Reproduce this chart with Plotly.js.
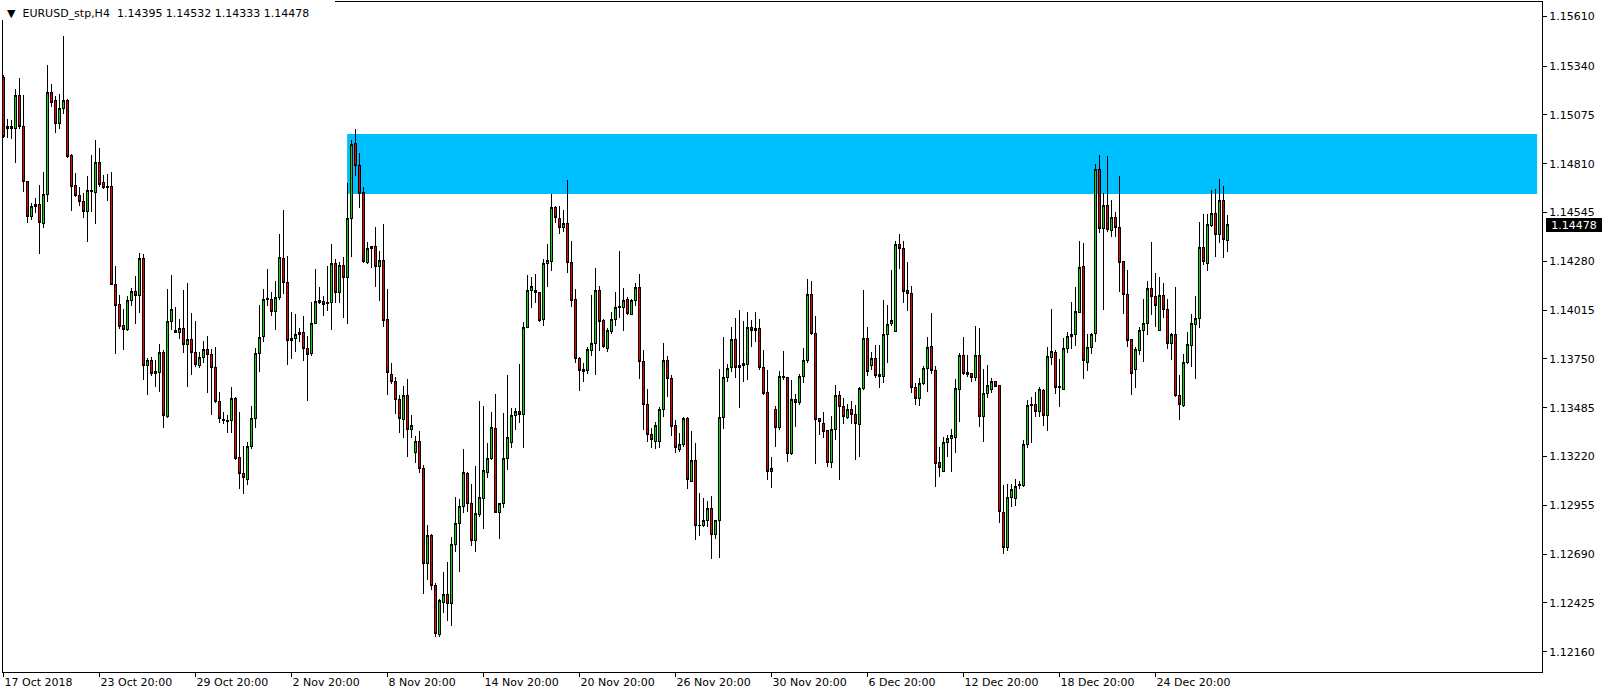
<!DOCTYPE html>
<html><head><meta charset="utf-8">
<script src="https://cdn.plot.ly/plotly-3.0.1.min.js"></script>
<style>html,body{margin:0;padding:0;background:#fff;overflow:hidden;} #chart{width:1604px;height:695px;}
#chart path.box{shape-rendering:crispEdges;}</style>
</head><body><div id="chart"></div>
<script>
const symbol = "EURUSD_stp";
const timeframe = "H4";

const open = [
1.15279,1.15000,1.15013,1.15002,1.15178,1.15011,1.14712,1.14522,1.14577,1.14591,
1.14487,1.14644,1.15198,1.15151,1.15029,1.15111,1.15151,1.14856,1.14689,1.14638,
1.14604,1.14549,1.14658,1.14655,1.14818,1.14709,1.14685,1.14685,1.14155,1.14047,
1.13929,1.13911,1.14065,1.14115,1.14093,1.14296,1.13715,1.13739,1.13679,1.13675,
1.13786,1.13436,1.13952,1.13907,1.13892,1.13916,1.13830,1.13857,1.13786,1.13713,
1.13759,1.13802,1.13775,1.13705,1.13518,1.13422,1.13409,1.13415,1.13536,1.13216,
1.13129,1.13096,1.13273,1.13428,1.13781,1.13871,1.14070,1.14074,1.14006,1.14085,
1.14296,1.14164,1.13849,1.13862,1.13884,1.13895,1.13808,1.13781,1.13944,1.14055,
1.14061,1.14058,1.14058,1.14269,1.14110,1.14255,1.14193,1.14514,1.14917,1.14799,
1.14653,1.14273,1.14348,1.14359,1.14251,1.14284,1.13965,1.13664,1.13626,1.13532,
1.13422,1.13553,1.13368,1.13241,1.13301,1.13156,1.12637,1.12790,1.12522,1.12251,
1.12426,1.12472,1.12423,1.12745,1.12854,1.12948,1.13129,1.12966,1.12763,1.12903,
1.12990,1.13132,1.13207,1.13370,1.12915,1.12963,1.13207,1.13295,1.13442,1.13464,
1.13446,1.13922,1.14120,1.14123,1.14112,1.13965,1.14269,1.14278,1.14573,1.14514,
1.14465,1.14483,1.14275,1.14070,1.13753,1.13690,1.13686,1.13795,1.13835,1.14119,
1.13956,1.13808,1.13898,1.13965,1.14028,1.14028,1.14075,1.13992,1.14065,1.14139,
1.13735,1.13504,1.13342,1.13301,1.13301,1.13473,1.13744,1.13645,1.13386,1.13259,
1.13287,1.13424,1.13087,1.13196,1.12848,1.12845,1.12872,1.12939,1.12798,1.12870,
1.13433,1.13650,1.13702,1.13858,1.13712,1.13712,1.13721,1.13923,1.13902,1.13916,
1.13702,1.13569,1.13138,1.13478,1.13377,1.13657,1.13650,1.13234,1.13531,1.13512,
1.13657,1.13741,1.14101,1.13889,1.13424,1.13401,1.13359,1.13187,1.13368,1.13554,
1.13494,1.13431,1.13473,1.13449,1.13395,1.13591,1.13862,1.13713,1.13753,1.13667,
1.13657,1.13884,1.13944,1.13898,1.14369,1.14351,1.14119,1.14106,1.13596,1.13536,
1.13618,1.13699,1.13816,1.13686,1.13187,1.13138,1.13297,1.13319,1.13325,1.13585,
1.13766,1.13677,1.13672,1.13650,1.13771,1.13436,1.13563,1.13585,1.13629,1.13603,
1.12917,1.12727,1.12999,1.12993,1.13060,1.13065,1.13283,1.13496,1.13505,1.13464,
1.13581,1.13442,1.13759,1.13786,1.13599,1.13585,1.13808,1.13871,1.13884,1.14003,
1.14251,1.13732,1.13813,1.13889,1.14780,1.14459,1.14582,1.14450,1.14519,1.14465,
1.14278,1.14101,1.13853,1.13694,1.13795,1.13907,1.13944,1.14134,1.14088,1.13907,
1.14093,1.14020,1.13835,1.13885,1.13550,1.13496,1.13732,1.13822,1.13938,1.13971,
1.14356,1.14269,1.14473,1.14541,1.14427,1.14608,1.14395
];

const high = [
1.15292,1.15051,1.15047,1.15214,1.15274,1.15183,1.14712,1.14598,1.14622,1.14694,
1.14765,1.15346,1.15243,1.15178,1.15189,1.15504,1.15160,1.14860,1.14758,1.14685,
1.14649,1.14743,1.14857,1.14939,1.14894,1.14750,1.14754,1.14765,1.14255,1.14096,
1.14023,1.14092,1.14137,1.14200,1.14324,1.14320,1.13754,1.13759,1.13744,1.13831,
1.13799,1.14128,1.14204,1.14033,1.13965,1.14124,1.14161,1.13998,1.13955,1.13786,
1.13847,1.13875,1.13802,1.13813,1.13572,1.13464,1.13446,1.13596,1.13545,1.13464,
1.13277,1.13301,1.13494,1.13808,1.14043,1.14131,1.14239,1.14113,1.14173,1.14428,
1.14559,1.14309,1.14005,1.13994,1.13916,1.13983,1.13875,1.14061,1.14239,1.14141,
1.14092,1.14255,1.14374,1.14291,1.14276,1.14305,1.14704,1.14939,1.14997,1.14870,
1.14685,1.14387,1.14359,1.14465,1.14338,1.14484,1.14128,1.13726,1.13650,1.13554,
1.13605,1.13639,1.13444,1.13332,1.13359,1.13174,1.12848,1.12798,1.12535,1.12446,
1.12595,1.12646,1.12785,1.12999,1.12988,1.13259,1.13138,1.13071,1.13170,1.13523,
1.13494,1.13292,1.13464,1.13560,1.12970,1.13455,1.13664,1.13482,1.13482,1.13723,
1.13952,1.14205,1.14197,1.14210,1.14112,1.14293,1.14374,1.14646,1.14580,1.14580,
1.14559,1.14722,1.14390,1.14130,1.13759,1.13730,1.13816,1.14097,1.14242,1.14146,
1.13967,1.13916,1.14003,1.14112,1.14336,1.14134,1.14088,1.14074,1.14164,1.14211,
1.13799,1.13585,1.13373,1.13409,1.13487,1.13838,1.13766,1.13664,1.13418,1.13346,
1.13433,1.13436,1.13360,1.13295,1.13024,1.12993,1.12979,1.13007,1.12875,1.13695,
1.13871,1.13721,1.13921,1.13974,1.14016,1.13956,1.14006,1.13961,1.14006,1.13967,
1.13799,1.13690,1.13216,1.13496,1.13685,1.13793,1.13650,1.13636,1.13558,1.13667,
1.13811,1.14184,1.14173,1.13983,1.13428,1.13464,1.13359,1.13440,1.13608,1.13578,
1.13536,1.13504,1.13522,1.13500,1.13599,1.14124,1.13922,1.13786,1.13826,1.13826,
1.14070,1.14043,1.14233,1.14392,1.14428,1.14392,1.14278,1.14146,1.13618,1.13645,
1.13712,1.13871,1.13998,1.13712,1.13270,1.13325,1.13337,1.13370,1.13641,1.13781,
1.13871,1.13770,1.13672,1.13929,1.13916,1.13695,1.13717,1.13645,1.13632,1.13603,
1.13065,1.13071,1.13071,1.13096,1.13089,1.13310,1.13527,1.13545,1.13569,1.13596,
1.13585,1.13816,1.14020,1.13799,1.13748,1.13862,1.13895,1.14058,1.14139,1.14390,
1.14378,1.13885,1.13892,1.14809,1.14857,1.14649,1.14852,1.14613,1.14546,1.14743,
1.14284,1.14233,1.13857,1.13813,1.13922,1.14075,1.14173,1.14383,1.14215,1.14193,
1.14161,1.14074,1.13889,1.14142,1.13664,1.13777,1.13898,1.13994,1.14092,1.14495,
1.14537,1.14537,1.14667,1.14673,1.14725,1.14689,1.14532
];

const low = [
1.14950,1.14948,1.14943,1.14816,1.14997,1.14658,1.14490,1.14504,1.14541,1.14320,
1.14459,1.14604,1.15116,1.14978,1.14997,1.15080,1.14841,1.14553,1.14631,1.14580,
1.14517,1.14387,1.14549,1.14483,1.14685,1.14674,1.14609,1.14150,1.13777,1.13911,
1.13799,1.13902,1.14037,1.13940,1.14001,1.13636,1.13554,1.13657,1.13599,1.13572,
1.13375,1.13428,1.13907,1.13889,1.13858,1.13784,1.13599,1.13664,1.13708,1.13702,
1.13726,1.13567,1.13446,1.13512,1.13401,1.13397,1.13349,1.13349,1.13201,1.13042,
1.13017,1.13064,1.13259,1.13373,1.13681,1.13844,1.14037,1.13985,1.13907,1.14070,
1.14103,1.13717,1.13751,1.13786,1.13844,1.13741,1.13523,1.13768,1.13939,1.14047,
1.13983,1.14012,1.13907,1.14055,1.14055,1.13974,1.13939,1.14305,1.14745,1.14568,
1.14273,1.14266,1.14245,1.14142,1.14066,1.13921,1.13554,1.13614,1.13451,1.13346,
1.13322,1.13216,1.13319,1.13187,1.13132,1.12474,1.12550,1.12495,1.12242,1.12242,
1.12369,1.12327,1.12300,1.12703,1.12595,1.12915,1.12920,1.12736,1.12700,1.12893,
1.12825,1.13105,1.13201,1.12913,1.12772,1.12942,1.13147,1.13268,1.13364,1.13404,
1.13268,1.13922,1.14025,1.14055,1.13952,1.13930,1.14142,1.14229,1.14490,1.14427,
1.14441,1.14215,1.14034,1.13726,1.13578,1.13626,1.13668,1.13766,1.13664,1.13795,
1.13808,1.13789,1.13885,1.13930,1.13974,1.13903,1.13990,1.13990,1.14037,1.13639,
1.13364,1.13301,1.13265,1.13259,1.13268,1.13433,1.13542,1.13333,1.13241,1.13246,
1.13273,1.13042,1.13083,1.12767,1.12790,1.12836,1.12839,1.12664,1.12772,1.12671,
1.13370,1.13623,1.13681,1.13645,1.13482,1.13626,1.13636,1.13816,1.13840,1.13690,
1.13554,1.13093,1.13048,1.13273,1.13364,1.13636,1.13189,1.13228,1.13382,1.13500,
1.13618,1.13726,1.13880,1.13178,1.13337,1.13322,1.13165,1.13159,1.13310,1.13093,
1.13395,1.13424,1.13395,1.13201,1.13219,1.13582,1.13657,1.13690,1.13648,1.13594,
1.13621,1.13730,1.13929,1.13898,1.14237,1.14052,1.14012,1.13563,1.13500,1.13496,
1.13608,1.13572,1.13668,1.13056,1.13111,1.13138,1.13216,1.13138,1.13241,1.13409,
1.13664,1.13654,1.13623,1.13632,1.13379,1.13301,1.13536,1.13563,1.13596,1.12857,
1.12689,1.12709,1.12944,1.12953,1.13042,1.13056,1.13268,1.13295,1.13436,1.13436,
1.13387,1.13360,1.13717,1.13560,1.13491,1.13585,1.13781,1.13802,1.13822,1.13998,
1.13639,1.13686,1.13777,1.13840,1.14435,1.14016,1.14441,1.14414,1.14414,1.14115,
1.13994,1.13816,1.13554,1.13594,1.13771,1.13735,1.13880,1.13990,1.13925,1.13903,
1.13971,1.13804,1.13744,1.13545,1.13418,1.13491,1.13723,1.13708,1.13639,1.13916,
1.14260,1.14229,1.14465,1.14305,1.14378,1.14296,1.14333
];

const close = [
1.14957,1.15013,1.15000,1.15178,1.15011,1.14712,1.14522,1.14577,1.14591,1.14490,
1.14644,1.15198,1.15141,1.15029,1.15111,1.15152,1.14848,1.14685,1.14636,1.14604,
1.14549,1.14666,1.14666,1.14818,1.14698,1.14680,1.14682,1.14155,1.14039,1.13925,
1.13911,1.14065,1.14115,1.14093,1.14296,1.13715,1.13739,1.13672,1.13672,1.13786,
1.13442,1.13952,1.14020,1.13895,1.13914,1.13830,1.13857,1.13786,1.13721,1.13759,
1.13802,1.13775,1.13705,1.13518,1.13428,1.13415,1.13418,1.13536,1.13210,1.13129,
1.13107,1.13273,1.13428,1.13781,1.13868,1.14074,1.14079,1.14006,1.14085,1.14302,
1.14164,1.13849,1.13862,1.13884,1.13895,1.13808,1.13775,1.13944,1.14061,1.14065,
1.14047,1.14052,1.14269,1.14110,1.14255,1.14193,1.14514,1.14912,1.14799,1.14649,
1.14278,1.14348,1.14359,1.14251,1.14284,1.13956,1.13677,1.13630,1.13531,1.13428,
1.13553,1.13368,1.13386,1.13301,1.13153,1.12637,1.12790,1.12522,1.12260,1.12436,
1.12472,1.12423,1.12745,1.12854,1.12948,1.13134,1.12966,1.12763,1.12908,1.12999,
1.13142,1.13207,1.13377,1.12915,1.12963,1.13207,1.13322,1.13442,1.13464,1.13446,
1.13922,1.14120,1.14142,1.14112,1.13961,1.14269,1.14282,1.14573,1.14519,1.14465,
1.14483,1.14273,1.14066,1.13753,1.13686,1.13681,1.13799,1.13835,1.14119,1.13952,
1.13816,1.13902,1.13965,1.14030,1.14033,1.14068,1.13998,1.14065,1.14139,1.13735,
1.13504,1.13341,1.13314,1.13390,1.13473,1.13744,1.13645,1.13382,1.13270,1.13287,
1.13424,1.13093,1.13196,1.12845,1.12845,1.12875,1.12939,1.12798,1.12870,1.13433,
1.13650,1.13699,1.13858,1.13702,1.13705,1.13723,1.13923,1.13902,1.13913,1.13702,
1.13563,1.13138,1.13153,1.13377,1.13657,1.13648,1.13238,1.13531,1.13512,1.13657,
1.13741,1.14101,1.13889,1.13422,1.13409,1.13355,1.13187,1.13368,1.13554,1.13491,
1.13436,1.13473,1.13449,1.13397,1.13591,1.13862,1.13681,1.13753,1.13659,1.13657,
1.13885,1.13938,1.13961,1.14369,1.14351,1.14115,1.14106,1.13596,1.13536,1.13618,
1.13699,1.13813,1.13686,1.13183,1.13162,1.13297,1.13319,1.13332,1.13591,1.13766,
1.13672,1.13668,1.13650,1.13771,1.13436,1.13563,1.13603,1.13629,1.13599,1.12920,
1.12727,1.12999,1.13042,1.13056,1.13069,1.13287,1.13496,1.13505,1.13464,1.13585,
1.13442,1.13762,1.13788,1.13594,1.13594,1.13808,1.13871,1.13884,1.14006,1.14248,
1.13741,1.13813,1.13884,1.14780,1.14459,1.14582,1.14454,1.14519,1.14465,1.14275,
1.14101,1.13849,1.13672,1.13799,1.13907,1.13944,1.14134,1.14088,1.14039,1.14093,
1.14020,1.13835,1.13885,1.13550,1.13500,1.13732,1.13826,1.13940,1.13971,1.14356,
1.14278,1.14481,1.14541,1.14427,1.14608,1.14400,1.14478
];

const dateTickBars = [0, 24, 48, 72, 96, 120, 144, 168, 192, 216, 240, 264, 288];
const dateTickLabels = ["17 Oct 2018", "23 Oct 20:00", "29 Oct 20:00", "2 Nov 20:00", "8 Nov 20:00",
  "14 Nov 20:00", "20 Nov 20:00", "26 Nov 20:00", "30 Nov 20:00", "6 Dec 20:00",
  "12 Dec 20:00", "18 Dec 20:00", "24 Dec 20:00"];
const priceTicks = [1.15610, 1.15340, 1.15075, 1.14810, 1.14545, 1.14280, 1.14015,
  1.13750, 1.13485, 1.13220, 1.12955, 1.12690, 1.12425, 1.12160];

const zoneTop = 1.14971;
const zoneBottom = 1.14645;
const zoneStartBar = 85.9;
const zoneEndBar = 383.4;

// ---- layout geometry ----
const W = 1604, H = 695;
const M = {l: 3, r: 62, t: 2, b: 23};
const plotW = W - M.l - M.r, plotH = H - M.t - M.b;
const pxPerBar = 4;
const xStart = -0.125;
const xRange = [xStart, xStart + plotW / pxPerBar];
const yRange = [1.12050, 1.15688];
const FONT = 'DejaVu Sans, Tahoma, Verdana, sans-serif';

const bars = open.map((_, i) => i);
const last = open.length - 1;
const fmt = v => v.toFixed(5);
const headerText = '\u25BC\u00a0\u00a0' + symbol + ',' + timeframe + '\u00a0\u00a0' +
  [open[last], high[last], low[last], close[last]].map(fmt).join(' ');

const trace = {
  type: 'candlestick',
  x: bars, open: open, high: high, low: low, close: close,
  increasing: {line: {color: '#000000', width: 1}, fillcolor: '#00DC00'},
  decreasing: {line: {color: '#000000', width: 1}, fillcolor: '#EE0000'},
  whiskerwidth: 0,
  hoverinfo: 'skip',
  showlegend: false
};

const layout = {
  width: W, height: H,
  margin: {l: M.l, r: M.r, t: M.t, b: M.b, pad: 0},
  paper_bgcolor: '#ffffff', plot_bgcolor: '#ffffff',
  boxgap: 0.5,
  showlegend: false,
  dragmode: false,
  font: {family: FONT, size: 11, color: '#000'},
  xaxis: {
    range: xRange, type: 'linear', showgrid: false, zeroline: false,
    showline: true, mirror: true, linecolor: '#000', linewidth: 1,
    tickmode: 'array', tickvals: dateTickBars, ticktext: dateTickLabels,
    ticks: 'outside', ticklen: 4, tickwidth: 1, tickcolor: '#000',
    ticklabelposition: 'outside right',
    tickfont: {family: FONT, size: 11, color: '#000'},
    rangeslider: {visible: false}, fixedrange: true
  },
  yaxis: {
    side: 'right', range: yRange, type: 'linear', showgrid: false, zeroline: false,
    showline: true, mirror: true, linecolor: '#000', linewidth: 1,
    tickmode: 'array', tickvals: priceTicks, ticktext: priceTicks.map(fmt),
    ticks: 'outside', ticklen: 4, tickwidth: 1, tickcolor: '#000',
    tickfont: {family: FONT, size: 11, color: '#000'},
    fixedrange: true
  },
  shapes: [
    {type: 'rect', layer: 'below', xref: 'x', yref: 'y',
     x0: zoneStartBar, x1: zoneEndBar, y0: zoneBottom, y1: zoneTop,
     fillcolor: '#00BFFF', line: {width: 0}},
    {type: 'rect', layer: 'above', xref: 'paper', yref: 'paper',
     x0: -M.l / plotW, x1: 332 / plotW, y0: 1 - 18 / plotH, y1: 1 + M.t / plotH,
     fillcolor: '#ffffff', line: {width: 0}}
  ],
  annotations: [
    {xref: 'paper', yref: 'paper', x: (7 - M.l) / plotW, y: 1 - (13 - M.t) / plotH,
     xanchor: 'left', yanchor: 'middle', showarrow: false, align: 'left',
     text: headerText, font: {family: FONT, size: 11, color: '#000'}, borderpad: 0, borderwidth: 0},
    {xref: 'paper', yref: 'y', x: 1, y: close[last], xanchor: 'left', yanchor: 'middle',
     xshift: 4, showarrow: false, text: fmt(close[last]), bgcolor: '#000000',
     font: {family: FONT, size: 11, color: '#ffffff'}, width: 52, height: 10, borderpad: 1, borderwidth: 1, bordercolor: '#000000'}
  ]
};

Plotly.newPlot('chart', [trace], layout, {displayModeBar: false, staticPlot: true});
</script>
</body></html>
